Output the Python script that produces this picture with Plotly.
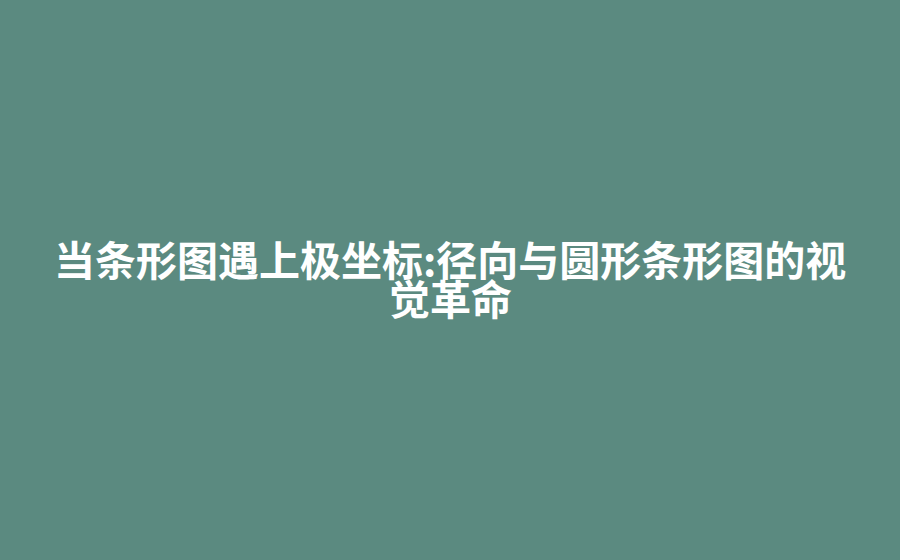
import plotly.graph_objects as go

# Title card: two centred lines of white text on a teal ground
title_lines = ["当条形图遇上极坐标:径向与圆形条形图的视", "觉革命"]
line_y = [258, 297]  # pixel centres, measured from the top

bg_color = "#5b8a80"

fig = go.Figure()
for text, y in zip(title_lines, line_y):
    fig.add_annotation(
        text="<b>" + text + "</b>",
        x=0.5, y=1 - y / 560,
        xref="paper", yref="paper",
        xanchor="center", yanchor="middle",
        showarrow=False,
        font=dict(family="Noto Sans CJK SC", size=41, color="white"),
    )

fig.update_layout(
    width=900, height=560,
    margin=dict(l=0, r=0, t=0, b=0),
    paper_bgcolor=bg_color,
    plot_bgcolor=bg_color,
    xaxis=dict(visible=False),
    yaxis=dict(visible=False),
    showlegend=False,
)

# drop the page margin so the card fills the window
fig.write_html(
    "out.html",
    config={"displayModeBar": False},
    post_script="document.body.style.margin='0';document.body.style.background='%s';" % bg_color,
)
